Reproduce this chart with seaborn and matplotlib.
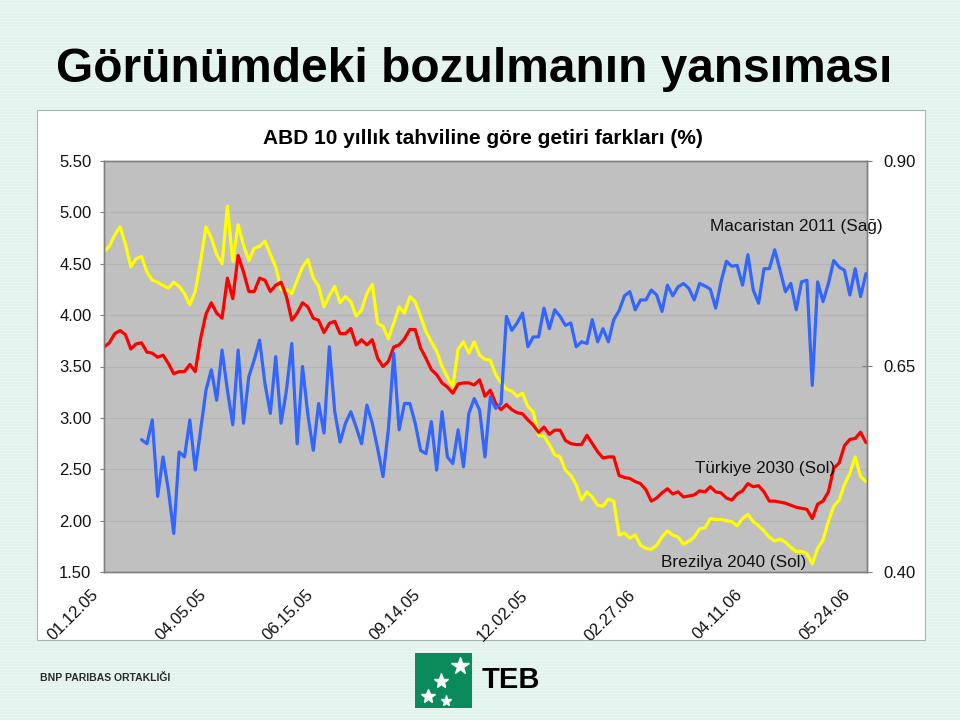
import numpy as np
import pandas as pd
import matplotlib
matplotlib.use("Agg")
import matplotlib.pyplot as plt
import seaborn as sns
from matplotlib.patches import Rectangle
from matplotlib.lines import Line2D
from matplotlib.transforms import ScaledTranslation

# ---------------- data ----------------
date_labels = ["01.12.05", "04.05.05", "06.15.05", "09.14.05",
               "12.02.05", "02.27.06", "04.11.06", "05.24.06"]
label_step = 20  # observations between date labels

brezilya_2040 = [
    4.62, 4.67, 4.78, 4.86, 4.69, 4.47, 4.55, 4.57, 4.42, 4.34,
    4.32, 4.29, 4.26, 4.32, 4.28, 4.21, 4.10, 4.23, 4.52, 4.86,
    4.75, 4.59, 4.50, 5.06, 4.52, 4.88, 4.68, 4.53, 4.65, 4.67,
    4.72, 4.59, 4.47, 4.25, 4.25, 4.21, 4.34, 4.47, 4.54, 4.36,
    4.28, 4.08, 4.19, 4.28, 4.12, 4.18, 4.13, 3.99, 4.05, 4.21,
    4.30, 3.92, 3.89, 3.77, 3.92, 4.08, 4.02, 4.18, 4.13, 3.99,
    3.84, 3.74, 3.65, 3.50, 3.40, 3.30, 3.67, 3.74, 3.63, 3.74,
    3.61, 3.57, 3.56, 3.42, 3.34, 3.28, 3.26, 3.21, 3.24, 3.11,
    3.06, 2.83, 2.82, 2.74, 2.64, 2.62, 2.49, 2.44, 2.35, 2.20,
    2.28, 2.23, 2.15, 2.14, 2.21, 2.19, 1.86, 1.88, 1.83, 1.86,
    1.76, 1.73, 1.72, 1.76, 1.84, 1.90, 1.86, 1.84, 1.77, 1.80,
    1.84, 1.92, 1.93, 2.02, 2.01, 2.01, 2.00, 1.99, 1.95, 2.02,
    2.06, 1.99, 1.95, 1.90, 1.84, 1.80, 1.82, 1.79, 1.74, 1.70,
    1.70, 1.68, 1.58, 1.73, 1.81, 1.99, 2.14, 2.20, 2.35, 2.46,
    2.62, 2.43, 2.38,
]

turkiye_2030 = [
    3.69, 3.73, 3.82, 3.85, 3.81, 3.67, 3.72, 3.73, 3.64, 3.63,
    3.59, 3.61, 3.53, 3.43, 3.45, 3.45, 3.52, 3.45, 3.77, 4.01,
    4.12, 4.02, 3.97, 4.36, 4.16, 4.58, 4.42, 4.23, 4.23, 4.36,
    4.34, 4.23, 4.29, 4.32, 4.18, 3.95, 4.02, 4.12, 4.08, 3.97,
    3.95, 3.83, 3.92, 3.94, 3.82, 3.82, 3.87, 3.71, 3.76, 3.71,
    3.76, 3.58, 3.50, 3.55, 3.69, 3.71, 3.77, 3.86, 3.86, 3.68,
    3.58, 3.47, 3.42, 3.34, 3.30, 3.24, 3.33, 3.34, 3.34, 3.32,
    3.37, 3.21, 3.27, 3.14, 3.08, 3.13, 3.08, 3.05, 3.04, 2.98,
    2.93, 2.86, 2.91, 2.84, 2.88, 2.88, 2.78, 2.75, 2.74, 2.74,
    2.83, 2.75, 2.67, 2.61, 2.62, 2.62, 2.44, 2.42, 2.41, 2.38,
    2.36, 2.30, 2.19, 2.22, 2.27, 2.31, 2.26, 2.28, 2.23, 2.24,
    2.25, 2.29, 2.28, 2.33, 2.28, 2.27, 2.22, 2.20, 2.26, 2.29,
    2.36, 2.33, 2.34, 2.28, 2.19, 2.19, 2.18, 2.17, 2.15, 2.13,
    2.12, 2.11, 2.02, 2.16, 2.19, 2.28, 2.51, 2.56, 2.73, 2.79,
    2.80, 2.86, 2.76,
]

macaristan_2011 = [
    np.nan, np.nan, np.nan, np.nan, np.nan, np.nan, np.nan, 0.561, 0.556, 0.585,
    0.492, 0.540, 0.500, 0.447, 0.546, 0.540, 0.585, 0.524, 0.573, 0.621,
    0.646, 0.609, 0.670, 0.621, 0.579, 0.670, 0.581, 0.638, 0.658, 0.682,
    0.629, 0.593, 0.662, 0.581, 0.621, 0.678, 0.556, 0.650, 0.591, 0.548,
    0.605, 0.569, 0.674, 0.595, 0.558, 0.581, 0.595, 0.576, 0.556, 0.603,
    0.581, 0.550, 0.516, 0.573, 0.666, 0.573, 0.605, 0.605, 0.581, 0.548,
    0.544, 0.583, 0.524, 0.595, 0.540, 0.532, 0.573, 0.528, 0.593, 0.611,
    0.597, 0.540, 0.613, 0.599, 0.605, 0.711, 0.694, 0.703, 0.715, 0.674,
    0.686, 0.686, 0.721, 0.696, 0.719, 0.711, 0.700, 0.703, 0.674, 0.680,
    0.678, 0.707, 0.680, 0.696, 0.680, 0.707, 0.718, 0.736, 0.741, 0.719,
    0.731, 0.731, 0.743, 0.737, 0.717, 0.749, 0.736, 0.747, 0.751, 0.745,
    0.731, 0.751, 0.748, 0.744, 0.721, 0.753, 0.778, 0.772, 0.773, 0.749,
    0.786, 0.743, 0.727, 0.769, 0.769, 0.792, 0.767, 0.741, 0.751, 0.719,
    0.753, 0.755, 0.627, 0.753, 0.729, 0.751, 0.779, 0.771, 0.767, 0.737,
    0.769, 0.735, 0.763,
]

left_ticks = [1.50, 2.00, 2.50, 3.00, 3.50, 4.00, 4.50, 5.00, 5.50]
right_ticks = [0.40, 0.65, 0.90]

df = pd.DataFrame({
    "obs": np.arange(len(brezilya_2040)),
    "Brezilya 2040 (Sol)": brezilya_2040,
    "Türkiye 2030 (Sol)": turkiye_2030,
    "Macaristan 2011 (Sağ)": macaristan_2011,
})

# ---------------- style ----------------
sns.set_style("white")
plt.rcParams["font.family"] = ["Liberation Sans", "DejaVu Sans"]

W, H = 960, 720
fig = plt.figure(figsize=(9.6, 7.2), dpi=100)
fig.patch.set_facecolor("#e1f3ec")

def fx(px):
    return px / W

def fy(py):
    return 1 - py / H

# faint horizontal stripes of the slide background
for yy in range(0, H, 3):
    fig.add_artist(Line2D([0, 1], [fy(yy), fy(yy)], color="#ebf8f3", lw=0.6, zorder=0))

# white chart frame
fig.add_artist(Rectangle((fx(37), fy(640)), fx(925 - 37), (640 - 110) / H,
                         transform=fig.transFigure, facecolor="white",
                         edgecolor="#a9b5b0", lw=0.8, zorder=1))

# slide title
fig.text(fx(474), fy(69), "Görünümdeki bozulmanın yansıması", ha="center", va="center",
         fontsize=34.5, fontweight="bold", color="black")

# chart title
fig.text(fx(483), fy(138), "ABD 10 yıllık tahviline göre getiri farkları (%)",
         ha="center", va="center", fontsize=15, fontweight="bold", color="black")

ax = fig.add_axes([fx(104), fy(572), fx(867 - 104), (572 - 161) / H], zorder=2)
ax.set_facecolor("#c0c0c0")

sns.lineplot(data=df, x="obs", y="Brezilya 2040 (Sol)", ax=ax, color="#ffff00", lw=2.3)
sns.lineplot(data=df, x="obs", y="Türkiye 2030 (Sol)", ax=ax, color="#ff0000", lw=2.3)

ax2 = ax.twinx()
sns.lineplot(data=df, x="obs", y="Macaristan 2011 (Sağ)", ax=ax2, color="#3366ff", lw=2.3)

n = len(brezilya_2040)
ax.set_xlim(0, n - 1 + 0.2)
ax.set_ylim(left_ticks[0], left_ticks[-1])
ax2.set_ylim(right_ticks[0], right_ticks[-1])

ax.set_yticks(left_ticks)
ax.set_yticklabels([f"{v:.2f}" for v in left_ticks])
ax2.set_yticks(right_ticks)
ax2.set_yticklabels([f"{v:.2f}" for v in right_ticks])

xt = [i * label_step for i in range(len(date_labels))]
ax.set_xticks(xt)
ax.set_xticklabels(date_labels, rotation=45, ha="right", va="top", rotation_mode="anchor")

ax.set_xlabel("")
ax.set_ylabel("")
ax2.set_ylabel("")

ax.yaxis.grid(True, color="#b3b3b3", lw=0.8)
ax.set_axisbelow(True)

for a in (ax, ax2):
    for s in a.spines.values():
        s.set_color("#808080")
        s.set_linewidth(1.0)

ax.tick_params(axis="y", direction="out", length=3, width=0.8, color="#808080",
               labelsize=12, labelcolor="#111111", pad=6)
ax.tick_params(axis="x", direction="inout", length=6, width=0.8, color="#808080",
               labelsize=12, labelcolor="#111111", pad=8)
ax2.tick_params(axis="y", direction="inout", length=7, width=0.8, color="#808080",
                labelsize=12, labelcolor="#111111", pad=8)

off = ScaledTranslation(-13 / 100, 0, fig.dpi_scale_trans)
for lbl in ax.get_xticklabels():
    lbl.set_transform(lbl.get_transform() + off)

# series annotations
fig.text(fx(710), fy(226), "Macaristan 2011 (Sağ)", ha="left", va="center",
         fontsize=12.3, color="#111111", zorder=5)
fig.text(fx(695), fy(468), "Türkiye 2030 (Sol)", ha="left", va="center",
         fontsize=12.3, color="#111111", zorder=5)
fig.text(fx(661), fy(563), "Brezilya 2040 (Sol)", ha="left", va="center",
         fontsize=12.3, color="#111111", zorder=5)

# footer
fig.text(fx(40), fy(678), "BNP PARIBAS ORTAKLIĞI", ha="left", va="center",
         fontsize=7.5, fontweight="bold", color="#2b2b2b")

fig.add_artist(Rectangle((fx(415), fy(708)), fx(472 - 415), (708 - 653) / H,
                         transform=fig.transFigure, facecolor="#0b8a5c",
                         edgecolor="none", zorder=2))
for (px, py, ms) in [(460, 666, 13), (441, 681, 11), (428, 696, 10), (446, 701, 8)]:
    fig.add_artist(Line2D([fx(px)], [fy(py)], marker="*", markersize=ms,
                          color="white", lw=0, transform=fig.transFigure, zorder=3))
fig.text(fx(482), fy(680), "TEB", ha="left", va="center", fontsize=21,
         fontweight="bold", color="black")

fig.savefig("out.png", dpi=100, facecolor=fig.get_facecolor())
